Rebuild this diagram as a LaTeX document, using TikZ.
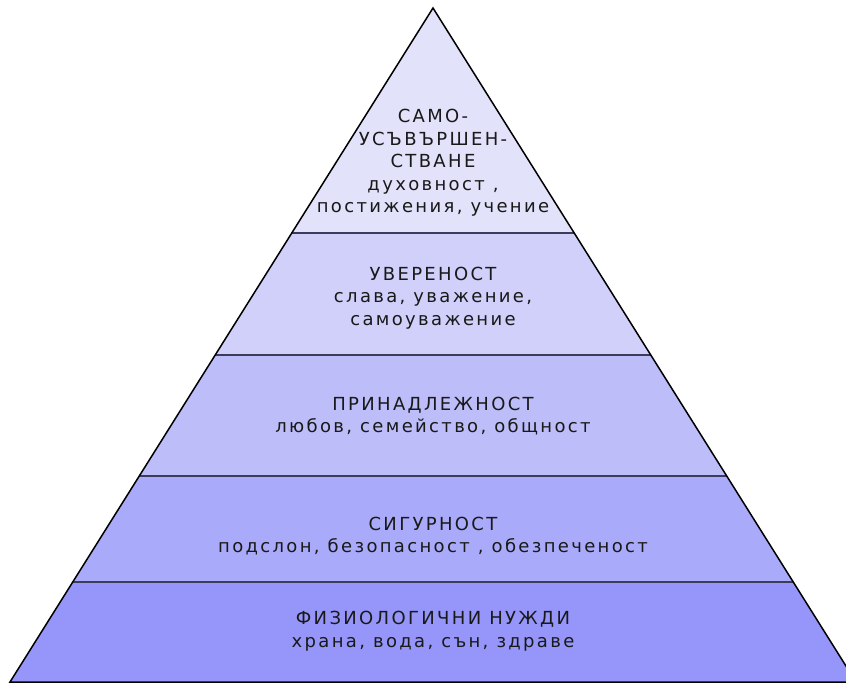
\documentclass[tikz,border=0pt]{standalone}
\usepackage{fontspec}
\setmainfont{DejaVu Sans}[LetterSpace=13]
\definecolor{lvA}{RGB}{226,226,250}
\definecolor{lvB}{RGB}{208,208,250}
\definecolor{lvC}{RGB}{189,189,250}
\definecolor{lvD}{RGB}{170,170,250}
\definecolor{lvE}{RGB}{150,150,250}
\definecolor{divline}{RGB}{60,60,90}
\definecolor{txt}{RGB}{25,25,25}
\begin{document}
\begin{tikzpicture}[x=1pt,y=-1pt,
  band/.style={draw=none},
  divider/.style={draw=divline,line width=1.2pt},
  outline/.style={draw=black,line width=1.5pt,line join=miter},
  lab/.style={align=center,text=txt,font=\fontsize{18}{22.5}\selectfont,inner sep=0pt}]
\useasboundingbox (0,0) rectangle (846,684);
\clip (0,0) rectangle (846,684);
\coordinate (apex) at (433,8);
\coordinate (bl) at (10,682);
\coordinate (br) at (856,682);
\coordinate (l1) at (291.8,233); \coordinate (r1) at (574.2,233);
\coordinate (l2) at (215.2,355); \coordinate (r2) at (650.8,355);
\coordinate (l3) at (139.3,476); \coordinate (r3) at (726.7,476);
\coordinate (l4) at (72.8,582);  \coordinate (r4) at (793.2,582);
\fill[lvA] (apex) -- (r1) -- (l1) -- cycle;
\fill[lvB] (l1) -- (r1) -- (r2) -- (l2) -- cycle;
\fill[lvC] (l2) -- (r2) -- (r3) -- (l3) -- cycle;
\fill[lvD] (l3) -- (r3) -- (r4) -- (l4) -- cycle;
\fill[lvE] (l4) -- (r4) -- (br) -- (bl) -- cycle;
\draw[divider] (l1) -- (r1);
\draw[divider] (l2) -- (r2);
\draw[divider] (l3) -- (r3);
\draw[divider] (l4) -- (r4);
\draw[outline] (apex) -- (br) -- (bl) -- cycle;
\node[lab] (t5) at (433,163) {САМО-\\УСЪВЪРШЕН-\\СТВАНЕ\\духовност ,\\постижения, учение};
\node[lab] (t4) at (433,298) {УВЕРЕНОСТ\\слава, уважение,\\самоуважение};
\node[lab] (t3) at (433,416) {ПРИНАДЛЕЖНОСТ\\любов, семейство, общност};
\node[lab] (t2) at (433,536) {СИГУРНОСТ\\подслон, безопасност , обезпеченост};
\node[lab] (t1) at (433,631) {ФИЗИОЛОГИЧНИ НУЖДИ\\храна, вода, сън, здраве};
\end{tikzpicture}
\end{document}
